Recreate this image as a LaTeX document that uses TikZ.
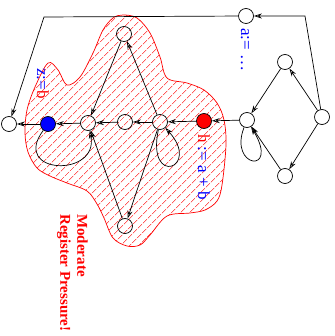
\documentclass[tikz,border=0pt]{standalone}
\usepackage{fontspec}
\setmainfont{Liberation Serif}
\usetikzlibrary{positioning,arrows.meta,patterns.meta}
\tikzset{
  blk/.style={draw,circle,line width=0.7pt,minimum size=15pt,inner sep=0pt},
  arc/.style={line width=0.7pt,-{Stealth[open,length=8pt,width=5pt]}},
  lab/.style={blue,font=\fontsize{17}{19}\selectfont,rotate=-90,anchor=west,inner sep=0pt},
  region/.style={draw=red,line width=0.7pt,pattern={Lines[angle=45,distance=6.5pt,line width=0.6pt]},pattern color=red}
}
\begin{document}
\begin{tikzpicture}[x=1pt,y=-1pt]
  \useasboundingbox (0,0) rectangle (334,336);
  \draw[region] plot[smooth cycle,tension=0.55] coordinates {(123,15) (137,18) (150,33) (160,57) (167,78)
    (187,83) (204,90) (217,103) (224,120) (226,145) (222,185) (217,201) (205,210) (190,213) (167,216)
    (150,235) (140,245) (127,246) (113,238) (104,218) (97,204) (87,191) (67,183) (50,176) (37,168)
    (28,152) (25,133) (27,110) (35,87) (48,63) (58,70) (67,85) (80,77) (93,53) (103,30) (113,18)};
  \node[blk] (a) at (9,124) {};
  \node[blk,fill=blue] (z) at (48,124) {};
  \node[blk] (c1) at (88,123) {};
  \node[blk] (c2) at (125,122) {};
  \node[blk] (c3) at (160,122) {};
  \node[blk,fill=red] (h) at (204,121) {};
  \node[blk] (e) at (247,120) {};
  \node[blk] (t) at (246,16) {};
  \node[blk] (r) at (322,117) {};
  \node[blk] (ur) at (285,62) {};
  \node[blk] (lr) at (285,176) {};
  \node[blk] (up) at (124,34) {};
  \node[blk] (dn) at (125,226) {};
  \coordinate (tk) at (44,17);
  \coordinate (rk) at (305,16);
  \node[lab] (tlab) at (245,28) {a:= \dots};
  \node[lab] (hlab) at (204,134) {{\color{red}h} := a + b};
  \node[lab] (zlab) at (43,68) {z:={\color{red}b}};
  \node[red,font=\bfseries\fontsize{15}{17}\selectfont,rotate=-90,anchor=north west,align=left,inner sep=0pt]
    (note) at (88,214) {Moderate\\Register Pressure!};
  \draw[arc] (z) -- (a);
  \draw[arc] (c1) -- (z);
  \draw[arc] (c2) -- (c1);
  \draw[arc] (c3) -- (c2);
  \draw[arc] (h) -- (c3);
  \draw[arc] (e) -- (h);
  \draw[arc] (r) -- (ur);
  \draw[arc] (r) -- (lr);
  \draw[arc] (ur) -- (e);
  \draw[arc] (lr) -- (e);
  \draw[arc] (c3) -- (up);
  \draw[arc] (up) -- (c1);
  \draw[arc] (c3) -- (dn);
  \draw[arc] (dn) -- (c1);
  \draw[arc] (t) -- (tk) -- (a);
  \draw[arc] (r) -- (rk) -- (t);
  \draw[arc] (e) .. controls (228,168) and (280,175) .. (e);
  \draw[arc] (c3) .. controls (146,188) and (202,168) .. (c3);
  \draw[arc] (z) .. controls (10,175) and (100,178) .. (c1);
\end{tikzpicture}
\end{document}
